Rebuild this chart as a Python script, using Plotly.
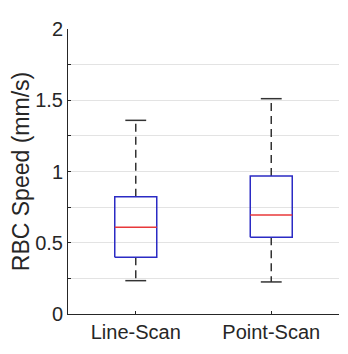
import plotly.graph_objects as go

categories = ["Line-Scan", "Point-Scan"]
lower_whisker = [0.234, 0.225]
q1 = [0.398, 0.538]
median = [0.608, 0.695]
q3 = [0.823, 0.968]
upper_whisker = [1.359, 1.511]

y_ticks = [0, 0.5, 1, 1.5, 2]
y_tick_labels = ["0", "0.5", "1", "1.5", "2"]

BOX_HALF = 0.155
CAP_HALF = 0.077
BOX_COLOR = "#2b2bc4"
MED_COLOR = "#e8383a"
WHISK_COLOR = "#333333"

fig = go.Figure()
for i, cat in enumerate(categories):
    c = i + 1
    # whiskers (dashed)
    fig.add_trace(go.Scatter(
        x=[c, c, None, c, c],
        y=[q3[i], upper_whisker[i], None, q1[i], lower_whisker[i]],
        mode="lines", line=dict(color=WHISK_COLOR, width=1.5, dash="8px,5px"),
        hoverinfo="skip", showlegend=False))
    # caps
    fig.add_trace(go.Scatter(
        x=[c - CAP_HALF, c + CAP_HALF, None, c - CAP_HALF, c + CAP_HALF],
        y=[upper_whisker[i], upper_whisker[i], None, lower_whisker[i], lower_whisker[i]],
        mode="lines", line=dict(color=WHISK_COLOR, width=1.5),
        hoverinfo="skip", showlegend=False))
    # box
    fig.add_trace(go.Scatter(
        x=[c - BOX_HALF, c + BOX_HALF, c + BOX_HALF, c - BOX_HALF, c - BOX_HALF],
        y=[q1[i], q1[i], q3[i], q3[i], q1[i]],
        mode="lines", line=dict(color=BOX_COLOR, width=1.5),
        hoverinfo="skip", showlegend=False))
    # median
    fig.add_trace(go.Scatter(
        x=[c - BOX_HALF, c + BOX_HALF],
        y=[median[i], median[i]],
        mode="lines", line=dict(color=MED_COLOR, width=1.5),
        hoverinfo="skip", showlegend=False))

fig.update_layout(
    width=340, height=346,
    margin=dict(l=60, r=9, t=21, b=40),
    paper_bgcolor="white", plot_bgcolor="white",
    font=dict(family="Liberation Sans, Arial, sans-serif", color="#262626"),
    showlegend=False,
)
fig.update_xaxes(
    range=[0.5, 2.5], tickvals=[1, 2], ticktext=categories,
    showgrid=False, zeroline=False, automargin=False,
    showline=True, linecolor="#262626", linewidth=1,
    ticks="inside", ticklen=3, tickcolor="#262626",
    tickfont=dict(size=20), fixedrange=True,
)
fig.update_yaxes(
    range=[0, 2], tickvals=y_ticks, ticktext=y_tick_labels,
    showgrid=True, gridcolor="#e3e3e3", gridwidth=1,
    zeroline=False, automargin=False,
    showline=True, linecolor="#262626", linewidth=1,
    ticks="inside", ticklen=3, tickcolor="#262626",
    tickfont=dict(size=20),
    minor=dict(dtick=0.25, showgrid=True, gridcolor="#e3e3e3", ticks="inside", ticklen=3, tickcolor="#262626"),
    title=dict(text="RBC Speed (mm/s)", font=dict(size=23), standoff=10),
    fixedrange=True,
)

fig.write_html("out.html")
